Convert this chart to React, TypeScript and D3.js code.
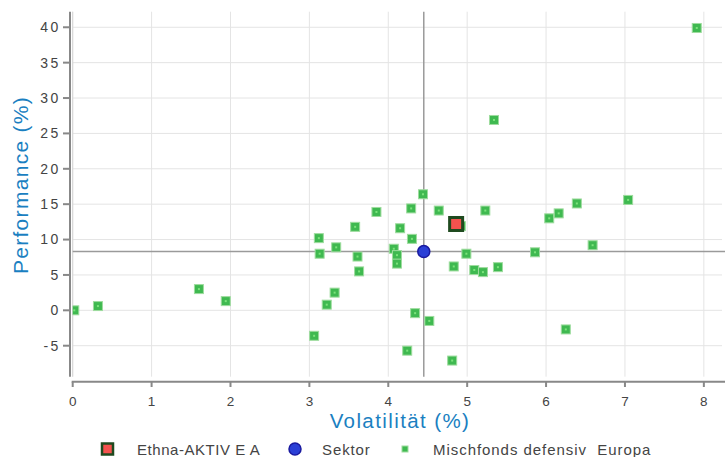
import React from "react";
import * as d3 from "d3";

const peerVol = [0.02, 0.32, 1.6, 1.94, 3.06, 3.12, 3.13, 3.22, 3.32, 3.34, 3.58, 3.61, 3.63, 3.85, 4.07, 4.11, 4.11, 4.15, 4.24, 4.29, 4.3, 4.34, 4.44, 4.52, 4.64, 4.81, 4.83, 4.92, 4.99, 5.09, 5.2, 5.23, 5.34, 5.39, 5.86, 6.04, 6.16, 6.25, 6.39, 6.59, 7.04, 7.91];
const peerPerf = [0.0, 0.6, 3.0, 1.3, -3.6, 10.2, 8.0, 0.8, 2.5, 8.9, 11.8, 7.6, 5.5, 13.9, 8.7, 7.8, 6.6, 11.6, -5.7, 14.4, 10.1, -0.4, 16.4, -1.5, 14.1, -7.1, 6.2, 11.9, 8.0, 5.7, 5.4, 14.1, 26.9, 6.1, 8.2, 13.0, 13.7, -2.7, 15.1, 9.2, 15.6, 39.9];

const fundName = "Ethna-AKTIV E A";
const fundVol = 4.86;
const fundPerf = 12.2;
const sectorName = "Sektor";
const sectorVol = 4.45;
const sectorPerf = 8.3;
const peerName = "Mischfonds defensiv  Europa";

const xTicks = [0, 1, 2, 3, 4, 5, 6, 7, 8];
const yTicks = [-5, 0, 5, 10, 15, 20, 25, 30, 35, 40];

const W = 725;
const H = 457;
const left = 72.7;
const right = 722;
const top = 11.7;
const bottom = 376.7;

export default function App() {
  const x = d3.scaleLinear().domain([0, 8.23]).range([left, right]);
  const y = d3.scaleLinear().domain([-9.38, 42.2]).range([bottom, top]);
  const tickColor = "#444";
  const blue = "#1a7fc1";
  const font = "'Liberation Sans', Arial, sans-serif";
  const peers = peerVol.map((v, i) => ({ v, p: peerPerf[i] }));
  return (
    <div style={{ position: "fixed", left: 0, top: 0 }}>
      <svg width={W} height={H} style={{ display: "block", background: "#fff" }} fontFamily={font}>
        <defs>
          <clipPath id="plotclip">
            <rect x={left} y={top} width={right - left + 2} height={bottom - top + 6} />
          </clipPath>
        </defs>
        {/* grid */}
        {yTicks.map((t) => (
          <line key={"gy" + t} x1={left} x2={right} y1={y(t)} y2={y(t)} stroke="#e4e4e4" strokeWidth={1} />
        ))}
        {xTicks.map((t) => (
          <line key={"gx" + t} x1={x(t)} x2={x(t)} y1={top} y2={bottom} stroke="#e4e4e4" strokeWidth={1} />
        ))}
        <line x1={left} x2={left} y1={top} y2={bottom} stroke="#d6d6d6" strokeWidth={1} />
        {/* reference lines */}
        <line x1={x(sectorVol)} x2={x(sectorVol)} y1={top} y2={bottom} stroke="#9a9a9a" strokeWidth={1.5} />
        <line x1={left} x2={right + 3} y1={y(sectorPerf)} y2={y(sectorPerf)} stroke="#9a9a9a" strokeWidth={1.5} />
        {/* peers */}
        <g clipPath="url(#plotclip)">
          {peers.map((d, i) => (
            <g key={"p" + i}>
              <rect x={x(d.v) - 4.5} y={y(d.p) - 4.5} width={9} height={9} fill="#3fb950" stroke="#9edc9e" strokeWidth={1} />
              <rect x={x(d.v) - 1} y={y(d.p) - 1} width={2} height={2} fill="#7be37b" />
            </g>
          ))}
        </g>
        {/* sector */}
        <circle cx={x(sectorVol)} cy={y(sectorPerf)} r={6} fill="#2a3fd6" stroke="#1a1aa0" strokeWidth={1.5} />
        {/* fund */}
        <rect x={x(fundVol) - 6.5} y={y(fundPerf) - 6.5} width={13} height={13} fill="#f4524e" stroke="#1f4a1f" strokeWidth={3} />
        {/* y axis */}
        <line x1={70} x2={70} y1={top} y2={bottom} stroke="#888" strokeWidth={2} />
        {yTicks.map((t) => (
          <g key={"yt" + t}>
            <line x1={63} x2={70} y1={y(t)} y2={y(t)} stroke="#888" strokeWidth={2} />
            <text x={60.5} y={y(t)} dy="0.35em" textAnchor="end" fontSize={14} fill={tickColor} letterSpacing={2.3}>
              {t}
            </text>
          </g>
        ))}
        {/* x axis */}
        <line x1={left - 1} x2={W} y1={381.7} y2={381.7} stroke="#888" strokeWidth={2} />
        {xTicks.map((t) => (
          <g key={"xt" + t}>
            <line x1={x(t)} x2={x(t)} y1={381.7} y2={387} stroke="#888" strokeWidth={2} />
            <text x={x(t)} y={405.5} textAnchor="middle" fontSize={13.5} fill={tickColor}>
              {t}
            </text>
          </g>
        ))}
        {/* axis titles */}
        <text x={400} y={428} textAnchor="middle" fontSize={20.5} fill={blue} letterSpacing={1.4}>
          Volatilität (%)
        </text>
        <text transform={`translate(28, 185) rotate(-90)`} textAnchor="middle" fontSize={21} fill={blue} letterSpacing={1.3}>
          Performance (%)
        </text>
        {/* legend */}
        <rect x={102} y={443.5} width={11} height={11} fill="#f4524e" stroke="#1f4a1f" strokeWidth={2.5} />
        <text x={137} y={455} fontSize={15} fill={tickColor} letterSpacing={0.55}>{fundName}</text>
        <circle cx={295} cy={449} r={6} fill="#2a3fd6" stroke="#1a1aa0" strokeWidth={1.5} />
        <text x={322} y={455} fontSize={15} fill={tickColor} letterSpacing={0.9}>{sectorName}</text>
        <rect x={402} y={446} width={6} height={6} fill="#3fb950" stroke="#9edc9e" strokeWidth={1} />
        <text x={433} y={455} fontSize={15} fill={tickColor} letterSpacing={0.95} style={{ whiteSpace: "pre" }}>{peerName}</text>
      </svg>
    </div>
  );
}
